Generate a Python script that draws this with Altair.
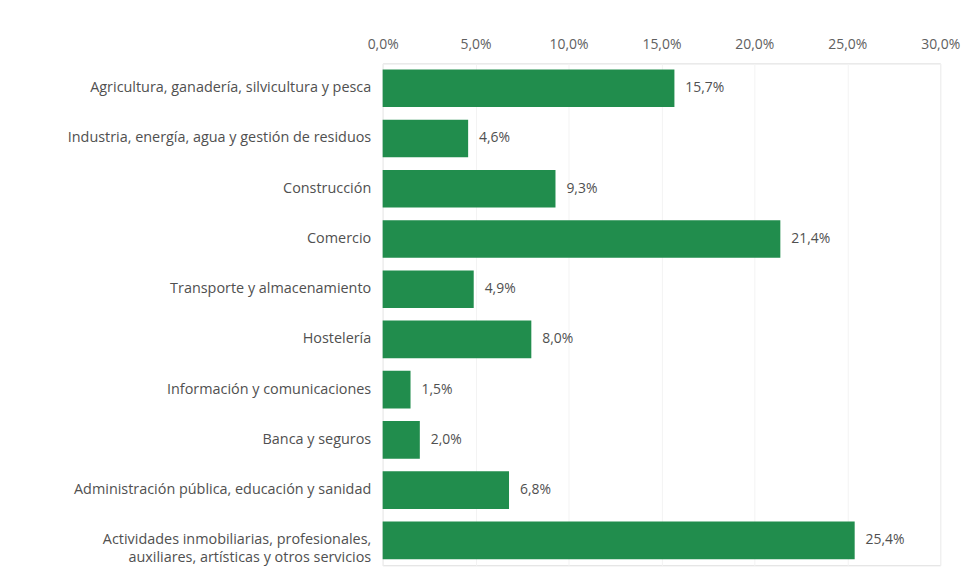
import altair as alt
import pandas as pd

categories = [
    "Agricultura, ganadería, silvicultura y pesca",
    "Industria, energía, agua y gestión de residuos",
    "Construcción",
    "Comercio",
    "Transporte y almacenamiento",
    "Hostelería",
    "Información y comunicaciones",
    "Banca y seguros",
    "Administración pública, educación y sanidad",
    "Actividades inmobiliarias, profesionales,|auxiliares, artísticas y otros servicios",
]
values = [15.7, 4.6, 9.3, 21.4, 4.9, 8.0, 1.5, 2.0, 6.8, 25.4]
value_labels = ["15,7%", "4,6%", "9,3%", "21,4%", "4,9%", "8,0%", "1,5%", "2,0%", "6,8%", "25,4%"]

df = pd.DataFrame({"cat": categories, "val": values, "lab": value_labels})

FONT = "Open Sans"
TXT = "#505050"

y = alt.Y(
    "cat:N",
    sort=categories,
    title=None,
    scale=alt.Scale(paddingInner=0.25, paddingOuter=0.12),
    axis=alt.Axis(
        labelExpr="split(datum.label, '|')",
        labelFont=FONT,
        labelFontSize=14.5,
        labelColor=TXT,
        labelPadding=12,
        labelLimit=400,
        ticks=False,
        domain=False,
        labelLineHeight=18,
    ),
)
x = alt.X(
    "val:Q",
    title=None,
    scale=alt.Scale(domain=[0, 30], nice=False),
    axis=alt.Axis(
        orient="top",
        values=[0, 5, 10, 15, 20, 25, 30],
        labelExpr="replace(format(datum.value, '.1f'), '.', ',') + '%'",
        labelFont=FONT,
        labelFontSize=14,
        labelColor="#606060",
        labelPadding=12,
        labelFlush=False,
        ticks=False,
        domain=False,
        grid=True,
        gridColor="#f3f3f3",
    ),
)

bars = alt.Chart(df).mark_bar(color="#218d4d").encode(x=x, y=y)
text = alt.Chart(df).mark_text(
    align="left", baseline="middle", dx=11, font=FONT, fontSize=14, color=TXT
).encode(x="val:Q", y=alt.Y("cat:N", sort=categories), text="lab:N")

chart = (
    alt.layer(bars, text)
    .properties(
        width=561,
        height=505,
        autosize=alt.AutoSizeParams(type="none"),
        padding={"left": 377, "top": 54, "right": 26, "bottom": 0},
    )
    .configure_view(stroke="#d0d0d0", strokeWidth=1)
    .configure(background="white")
)

chart.save("out.html", embed_options={"renderer": "svg", "actions": False})
